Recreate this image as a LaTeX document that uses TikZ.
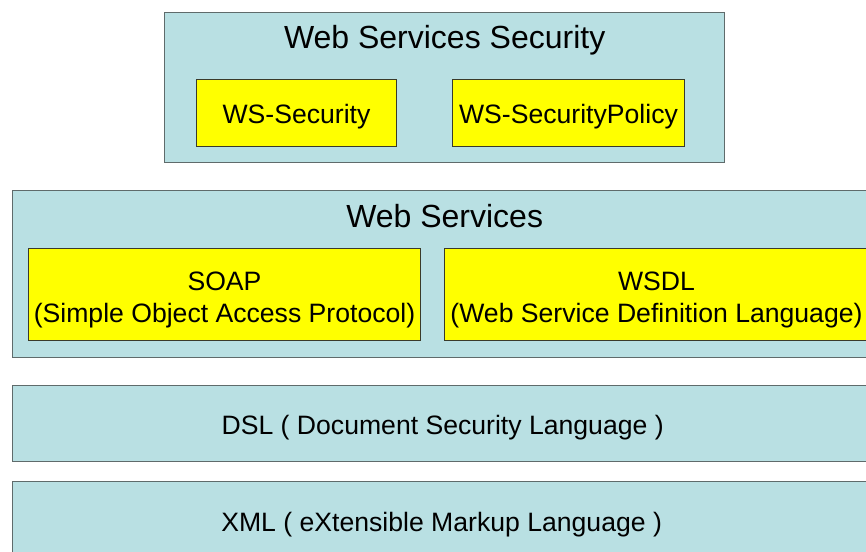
\documentclass[tikz,border=0pt]{standalone}
\usepackage{fontspec}
\setmainfont{Liberation Sans}
\usetikzlibrary{positioning, calc}
\definecolor{wsLayer}{HTML}{B9E0E3}
\definecolor{wsLayerEdge}{HTML}{5F6B6B}
\definecolor{wsItem}{HTML}{FFFF00}
\definecolor{wsItemEdge}{HTML}{3A3A2A}
\tikzset{
  ws-layer/.style={
    rectangle, draw=wsLayerEdge, fill=wsLayer, line width=1.3pt,
    anchor=north west, inner sep=0pt, text height=28pt, text depth=5.6pt,
    font=\fontsize{26.6}{32}\selectfont
  },
  ws-item/.style={
    rectangle, draw=wsItemEdge, fill=wsItem, line width=1pt,
    anchor=north west, inner sep=0pt, align=center,
    text height=26.6pt, text depth=5.6pt,
    font=\fontsize{26.6}{32}\selectfont
  },
  ws-item2/.style={ws-item, text height=60.6pt},
  ws-title/.style={anchor=base, font=\fontsize{32}{38}\selectfont},
}

\begin{document}
\begin{tikzpicture}[x=1pt, y=-1pt]
  \clip (0,0) rectangle (866,551);
  \fill[white] (0,0) rectangle (866,551);

  % security layer
  \node[ws-layer, minimum width=560pt, minimum height=150pt] (sec) at (164,12) {};
  \node[ws-title] (secT) at ($(sec.north)+(0,36.5)$) {Web Services Security};
  \node[ws-item, minimum width=200pt, minimum height=67pt] (wss) at (196,79) {WS-Security};
  \node[ws-item, minimum width=232pt, minimum height=67pt] (wssp) at (452,79) {WS-SecurityPolicy};

  % web services layer
  \node[ws-layer, minimum width=864pt, minimum height=167pt] (ws) at (12,190) {};
  \node[ws-title] (wsT) at ($(ws.north)+(0,37.5)$) {Web Services};
  \node[ws-item2, minimum width=392pt, minimum height=92pt] (soap) at (28,248)
    {SOAP\\(Simple Object Access Protocol)};
  \node[ws-item2, minimum width=424pt, minimum height=92pt] (wsdl) at (444,248)
    {WSDL\\(Web Service Definition Language)};

  % lower layers
  \node[ws-layer, minimum width=860pt, minimum height=76pt] (dsl) at (12,385)
    {DSL ( Document Security Language )};
  \node[ws-layer, minimum width=858pt, minimum height=80pt, text height=24.6pt] (xml) at (12,481)
    {XML ( eXtensible Markup Language )};
\end{tikzpicture}
\end{document}
